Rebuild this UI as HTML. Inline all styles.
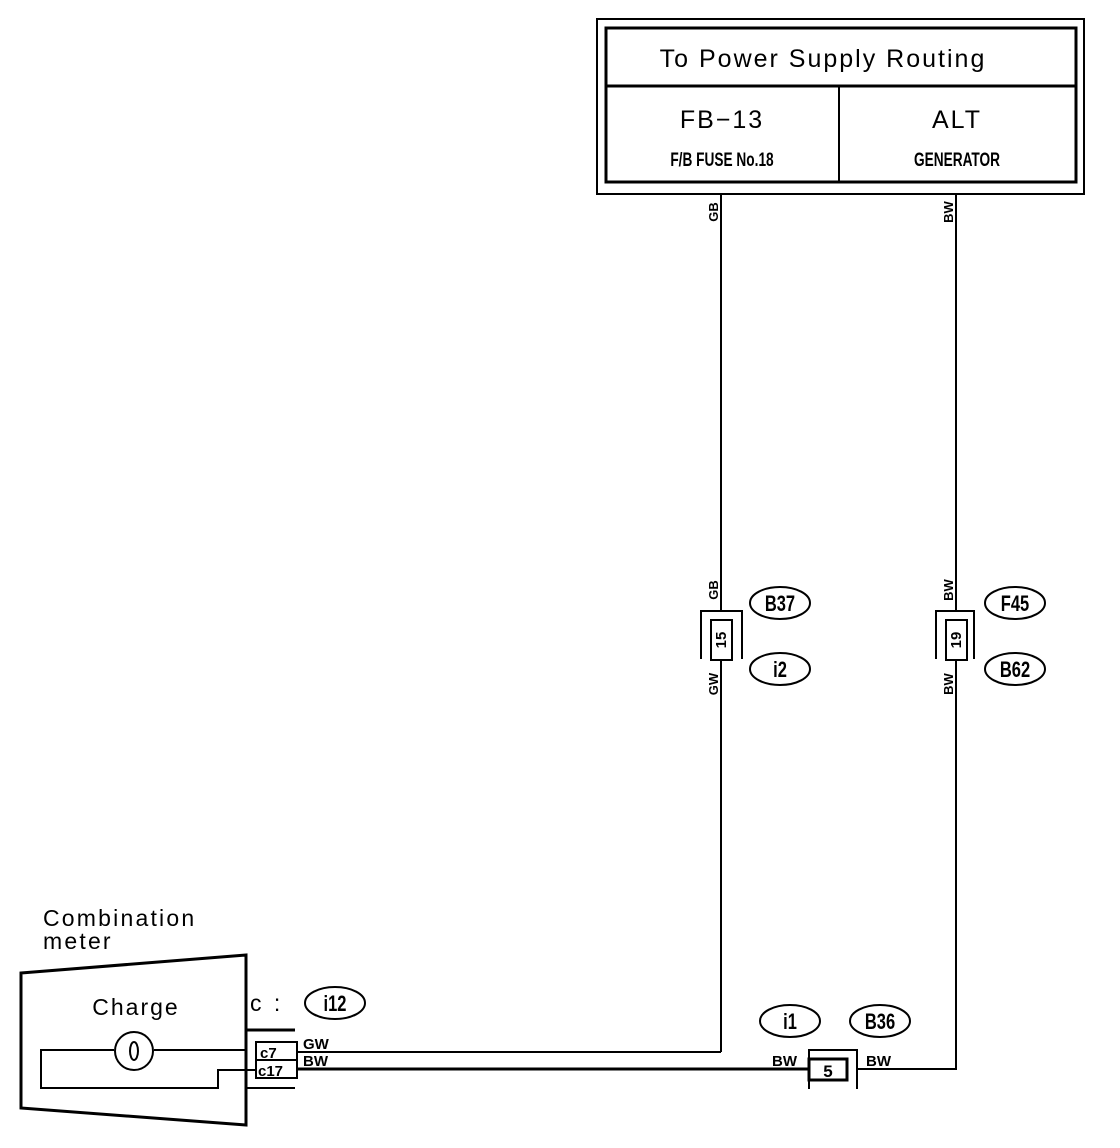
<!DOCTYPE html>
<html><head><style>
html,body{margin:0;padding:0;background:#fff;}
svg{display:block;}
text{font-family:"Liberation Sans",sans-serif;fill:#000;}
</style></head><body>
<svg width="1120" height="1148" viewBox="0 0 1120 1148" xmlns="http://www.w3.org/2000/svg">
<g fill="none" stroke="#000">
<rect x="597" y="19" width="487" height="175" stroke-width="2"/>
<rect x="606" y="28" width="470" height="154" stroke-width="3"/>
<line x1="606" y1="86" x2="1076" y2="86" stroke-width="3"/>
<line x1="839" y1="86" x2="839" y2="182" stroke-width="2"/>
<line x1="721" y1="194" x2="721" y2="611" stroke-width="2"/>
<line x1="721" y1="660" x2="721" y2="1052" stroke-width="2"/>
<line x1="956" y1="194" x2="956" y2="611" stroke-width="2"/>
<line x1="956" y1="660" x2="956" y2="1069" stroke-width="2"/>
<path d="M701 659 V611 H742 V659" stroke-width="2"/>
<rect x="711" y="620" width="21" height="40" stroke-width="2"/>
<path d="M936 659 V611 H974 V659" stroke-width="2"/>
<rect x="946" y="620" width="21" height="40" stroke-width="2"/>
<ellipse cx="780" cy="603" rx="30" ry="16" stroke-width="2"/>
<ellipse cx="780" cy="669" rx="30" ry="16" stroke-width="2"/>
<ellipse cx="1015" cy="603" rx="30" ry="16" stroke-width="2"/>
<ellipse cx="1015" cy="669" rx="30" ry="16" stroke-width="2"/>
<ellipse cx="790" cy="1021" rx="30" ry="16" stroke-width="2"/>
<ellipse cx="880" cy="1021" rx="30" ry="16" stroke-width="2"/>
<ellipse cx="335" cy="1003" rx="30" ry="16" stroke-width="2"/>
<line x1="297" y1="1052" x2="721" y2="1052" stroke-width="2"/>
<line x1="297" y1="1069" x2="809" y2="1069" stroke-width="3"/>
<line x1="857" y1="1069" x2="957" y2="1069" stroke-width="2"/>
<path d="M809 1089 V1050 H857 V1089" stroke-width="2"/>
<rect x="809" y="1059" width="38" height="21" stroke-width="3"/>
<polygon points="21,973 246,955 246,1125 21,1108" stroke-width="3"/>
<path d="M246 1050 H154 M114 1050 H41 V1088 H218 V1070 H256" stroke-width="2"/>
<circle cx="134" cy="1051" r="19" stroke-width="2"/>
<ellipse cx="134" cy="1051" rx="4" ry="9" stroke-width="2"/>
<line x1="246" y1="1030" x2="295" y2="1030" stroke-width="3"/>
<line x1="246" y1="1088" x2="295" y2="1088" stroke-width="2"/>
<rect x="256" y="1042" width="41" height="18" stroke-width="2"/>
<rect x="256" y="1060" width="41" height="18" stroke-width="2"/>
</g>
<text x="823" y="67" font-size="25" letter-spacing="2" text-anchor="middle">To Power Supply Routing</text>
<text x="722" y="128" font-size="25" letter-spacing="2" text-anchor="middle">FB−13</text>
<text x="722" y="166" font-size="19" font-weight="bold" text-anchor="middle" transform="translate(722 0) scale(0.72 1) translate(-722 0)">F/B FUSE No.18</text>
<text x="957" y="128" font-size="25" letter-spacing="2" text-anchor="middle">ALT</text>
<text x="957" y="166" font-size="19" font-weight="bold" text-anchor="middle" transform="translate(957 0) scale(0.72 1) translate(-957 0)">GENERATOR</text>
<g font-size="13" font-weight="bold" text-anchor="middle">
<text transform="translate(718 212) rotate(-90)">GB</text>
<text transform="translate(953 212) rotate(-90)">BW</text>
<text transform="translate(718 590) rotate(-90)">GB</text>
<text transform="translate(718 684) rotate(-90)">GW</text>
<text transform="translate(953 590) rotate(-90)">BW</text>
<text transform="translate(953 684) rotate(-90)">BW</text>
<text transform="translate(726 640) rotate(-90)" font-size="15">15</text>
<text transform="translate(961 640) rotate(-90)" font-size="15">19</text>
</g>
<g font-size="22" text-anchor="middle" font-weight="bold">
<text x="780" y="611" transform="translate(780 0) scale(0.75 1) translate(-780 0)">B37</text>
<text x="780" y="677" transform="translate(780 0) scale(0.75 1) translate(-780 0)">i2</text>
<text x="1015" y="611" transform="translate(1015 0) scale(0.75 1) translate(-1015 0)">F45</text>
<text x="1015" y="677" transform="translate(1015 0) scale(0.75 1) translate(-1015 0)">B62</text>
<text x="790" y="1029" transform="translate(790 0) scale(0.75 1) translate(-790 0)">i1</text>
<text x="880" y="1029" transform="translate(880 0) scale(0.75 1) translate(-880 0)">B36</text>
<text x="335" y="1011" transform="translate(335 0) scale(0.75 1) translate(-335 0)">i12</text>
</g>
<text x="828" y="1077" font-size="17" font-weight="bold" text-anchor="middle">5</text>
<g font-size="15" font-weight="bold">
<text x="772" y="1066">BW</text>
<text x="866" y="1066">BW</text>
<text x="303" y="1049">GW</text>
<text x="303" y="1066">BW</text>
<text x="260" y="1058" font-size="15">c7</text>
<text x="258" y="1076" font-size="15">c17</text>
</g>
<text x="43" y="926" font-size="23" letter-spacing="2.2">Combination</text>
<text x="43" y="949" font-size="23" letter-spacing="2.2">meter</text>
<text x="136" y="1015" font-size="23" letter-spacing="2" text-anchor="middle">Charge</text>
<text x="250" y="1011" font-size="23" letter-spacing="3">c :</text>
</svg>
</body></html>
